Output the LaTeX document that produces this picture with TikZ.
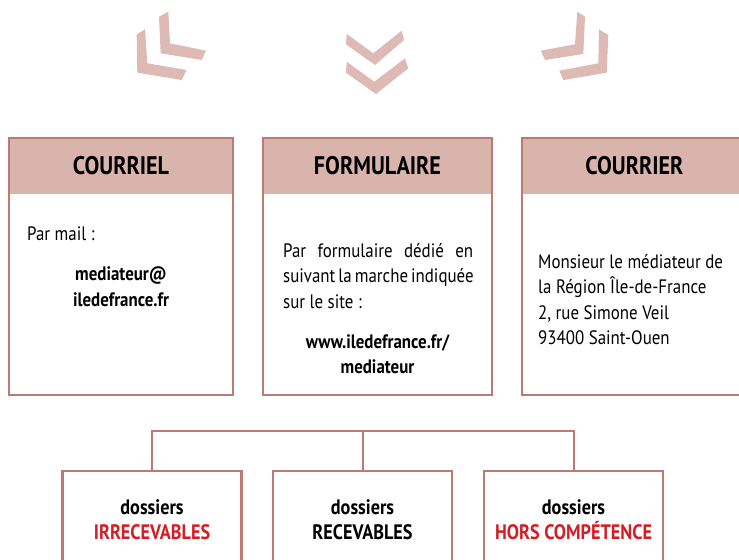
\documentclass[tikz,border=0pt]{standalone}
\usepackage{fontspec}
\setmainfont[FakeStretch=0.87]{PT Sans}
\usetikzlibrary{calc}
\definecolor{brd}{RGB}{188,122,112}
\definecolor{hdrc}{RGB}{216,180,173}
\definecolor{chev}{RGB}{221,186,180}
\definecolor{redt}{RGB}{210,30,38}
\begin{document}
\begin{tikzpicture}[x=1bp,y=-1bp,
  hdr/.style={fill=hdrc, minimum height=56bp, inner sep=0pt, font=\bfseries\fontsize{25.5}{30}\selectfont},
  topbox/.style={draw=brd, line width=2.5bp, minimum height=257bp, inner sep=0pt},
  botbox/.style={draw=brd, line width=2.5bp, minimum width=179bp, minimum height=120bp, inner sep=0pt},
  bodyline/.style={font=\fontsize{19.5}{25}\selectfont, inner sep=0pt},
  boldline/.style={font=\bfseries\fontsize{19.5}{25}\selectfont, inner sep=0pt, anchor=base},
  botline/.style={font=\bfseries\fontsize{21}{25}\selectfont, inner sep=0pt, anchor=base},
  tree/.style={draw=brd, line width=2bp},
  chevron/.style={fill=chev}]
\useasboundingbox (0,0) rectangle (739,560);
\fill[white] (0,0) rectangle (739,560);

% chevrons
\fill[chevron] (136.7,34.3) -- (145,29.3) -- (147.3,63.3) -- (186.7,70) -- (181.7,80) -- (137.3,72.7) -- cycle;
\fill[chevron] (159,16.7) -- (168.3,11.7) -- (170,43.3) -- (206,50.7) -- (201.7,60) -- (160.7,53.3) -- cycle;
\fill[chevron] (346.7,34) -- (373.3,53.3) -- (401.7,30.7) -- (404,40) -- (375,65) -- (346,44.3) -- cycle;
\fill[chevron] (346.7,61.7) -- (374.3,81.7) -- (405,58.3) -- (408.3,68.3) -- (376,94) -- (346,72.7) -- cycle;
\fill[chevron] (577.3,11.7) -- (585,16.7) -- (583.3,54) -- (545,60) -- (540.7,50.7) -- (575,44.3) -- cycle;
\fill[chevron] (599,29.3) -- (608.3,35) -- (606.7,72.7) -- (563.3,80) -- (559.3,70.7) -- (598.3,63.3) -- cycle;

% headers
\node[hdr, minimum width=224bp] (h1) at (121,166) {COURRIEL};
\node[hdr, minimum width=229bp] (h2) at (377.5,166) {FORMULAIRE};
\node[hdr, minimum width=225bp] (h3) at (634.5,166) {COURRIER};

% top boxes
\node[topbox, minimum width=224bp] (t1) at (121,266.5) {};
\node[topbox, minimum width=229bp] (t2) at (377.5,266.5) {};
\node[topbox, minimum width=225bp] (t3) at (634.5,266.5) {};

% box 1 text
\node[bodyline, anchor=base west] (a1) at (27,241) {Par mail :};
\node[boldline] (a2) at (121,281) {mediateur@};
\node[boldline] (a3) at (121,306) {iledefrance.fr};

% box 2 text
\node[bodyline, anchor=base west] (b1) at (283,258) {\makebox[190bp][s]{Par formulaire dédié en}};
\node[bodyline, anchor=base west] (b2) at (283,283) {\makebox[190bp][s]{suivant la marche indiquée}};
\node[bodyline, anchor=base west] (b3) at (283,308) {sur le site :};
\node[boldline] (b4) at (377.5,348) {www.iledefrance.fr/};
\node[boldline] (b5) at (377.5,373) {mediateur};

% box 3 text
\node[bodyline, anchor=base west] (c1) at (538,269) {Monsieur le médiateur de};
\node[bodyline, anchor=base west] (c2) at (538,294) {la Région Île-de-France};
\node[bodyline, anchor=base west] (c3) at (538,319) {2, rue Simone Veil};
\node[bodyline, anchor=base west] (c4) at (538,344) {93400 Saint-Ouen};

% bottom boxes
\node[botbox] (d1) at (152,531) {};
\node[botbox] (d2) at (362.5,531) {};
\node[botbox] (d3) at (573.5,531) {};
\node[botline] (e1) at (152,514) {dossiers};
\node[botline, text=redt] (f1) at (152,539) {IRRECEVABLES};
\node[botline] (e2) at (362.5,514) {dossiers};
\node[botline] (f2) at (362.5,539) {RECEVABLES};
\node[botline] (e3) at (573.5,514) {dossiers};
\node[botline, text=redt] (f3) at (573.5,539) {HORS COMPÉTENCE};

% tree
\coordinate (hub) at (362.5,431);
\draw[tree] (d1.north) |- (hub) -| (d3.north);
\draw[tree] (hub) -- (d2.north);
\end{tikzpicture}
\end{document}
